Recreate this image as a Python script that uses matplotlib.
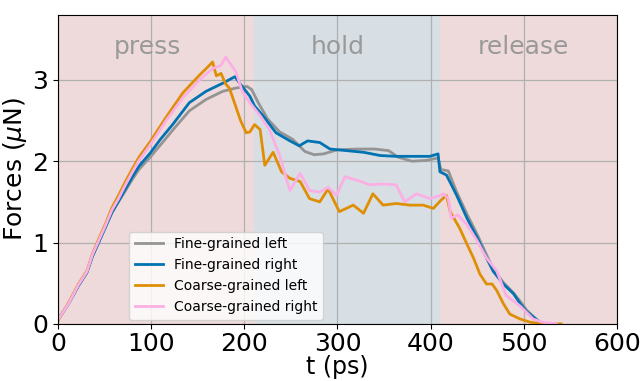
import matplotlib
matplotlib.use("Agg")
import matplotlib.pyplot as plt

# force on each side of the contact, fine-grained vs coarse-grained model
t_fine_left = [0, 11, 22, 31, 37, 44, 51, 58, 65, 72, 80, 87, 99, 110, 123, 141,
               159, 177, 191, 203, 208, 215, 225, 238, 252, 265, 275, 285, 300,
               320, 340, 355, 365, 380, 395, 408, 411, 419, 428, 439, 450, 460,
               467, 478, 489, 496, 503, 514, 520]
f_fine_left = [0.05, 0.24, 0.47, 0.63, 0.83, 1.01, 1.19, 1.37, 1.50, 1.63, 1.78,
               1.90, 2.05, 2.20, 2.38, 2.62, 2.76, 2.86, 2.90, 2.92, 2.88, 2.72,
               2.52, 2.36, 2.27, 2.12, 2.08, 2.09, 2.14, 2.15, 2.15, 2.13, 2.05,
               2.00, 2.01, 2.04, 1.90, 1.88, 1.62, 1.35, 1.10, 0.85, 0.68, 0.51,
               0.38, 0.28, 0.17, 0.05, 0.0]

t_fine_right = [0, 11, 22, 31, 37, 44, 51, 58, 65, 72, 80, 87, 99, 110, 123, 141,
                159, 177, 190, 195, 206, 211, 220, 234, 249, 259, 268, 281, 292,
                310, 328, 346, 363, 381, 399, 408, 410, 417, 428, 439, 450, 460,
                467, 478, 489, 496, 503, 514, 520, 530]
f_fine_right = [0.05, 0.24, 0.47, 0.63, 0.83, 1.01, 1.19, 1.37, 1.51, 1.65, 1.81,
                1.94, 2.10, 2.27, 2.45, 2.72, 2.86, 2.96, 3.04, 2.96, 2.80, 2.68,
                2.56, 2.35, 2.25, 2.19, 2.25, 2.23, 2.15, 2.13, 2.11, 2.07, 2.06,
                2.06, 2.06, 2.09, 1.87, 1.83, 1.58, 1.30, 1.06, 0.81, 0.65, 0.49,
                0.37, 0.25, 0.15, 0.05, 0.0, 0.0]

t_coarse_left = [0, 11, 22, 31, 37, 44, 51, 58, 65, 72, 80, 87, 99, 116, 134, 152,
                 160, 166, 170, 175, 180, 184, 190, 196, 202, 206, 211, 217, 222,
                 231, 240, 249, 260, 270, 281, 290, 302, 317, 328, 338, 349, 363,
                 378, 392, 403, 411, 417, 421, 431, 439, 446, 453, 460, 466, 471,
                 478, 485, 496, 507, 520, 540]
f_coarse_left = [0.04, 0.25, 0.49, 0.65, 0.86, 1.05, 1.23, 1.43, 1.58, 1.74, 1.91,
                 2.05, 2.24, 2.54, 2.84, 3.06, 3.15, 3.22, 3.05, 3.08, 2.95, 2.90,
                 2.70, 2.50, 2.35, 2.36, 2.45, 2.39, 1.95, 2.11, 1.87, 1.79, 1.75,
                 1.54, 1.50, 1.66, 1.38, 1.46, 1.36, 1.60, 1.46, 1.48, 1.46, 1.46,
                 1.42, 1.52, 1.58, 1.38, 1.18, 0.98, 0.81, 0.61, 0.49, 0.49, 0.41,
                 0.25, 0.12, 0.06, 0.02, 0.0, 0.0]

t_coarse_right = [0, 11, 22, 31, 37, 44, 51, 58, 65, 72, 80, 87, 99, 116, 134, 152,
                  166, 175, 180, 191, 198, 206, 217, 227, 238, 245, 249, 260, 270,
                  281, 290, 299, 308, 320, 335, 349, 363, 372, 385, 399, 411, 414,
                  419, 422, 429, 439, 450, 460, 471, 481, 496, 510, 520, 535]
f_coarse_right = [0.05, 0.24, 0.48, 0.64, 0.85, 1.03, 1.21, 1.40, 1.54, 1.70, 1.87,
                  2.01, 2.20, 2.50, 2.78, 3.00, 3.14, 3.18, 3.28, 3.10, 2.85, 2.72,
                  2.56, 2.39, 2.07, 1.79, 1.64, 1.85, 1.64, 1.62, 1.68, 1.58, 1.81,
                  1.77, 1.71, 1.72, 1.71, 1.50, 1.60, 1.54, 1.58, 1.60, 1.54, 1.30,
                  1.34, 1.22, 1.02, 0.81, 0.65, 0.35, 0.22, 0.06, 0.02, 0.0]

phases = ["press", "hold", "release"]
phase_edges = [0, 210, 410, 600]
phase_label_x = [96, 300, 500]
phase_colors = ["#efdadb", "#d8dfe4", "#efdadb"]

fig, ax = plt.subplots(figsize=(6.44, 3.81), dpi=100)
fig.subplots_adjust(left=0.090, right=0.958, top=0.961, bottom=0.150)

for i, name in enumerate(phases):
    ax.axvspan(phase_edges[i], phase_edges[i + 1], color=phase_colors[i], lw=0)
    ax.text(phase_label_x[i], 3.4, name, fontsize=18, color="#999999",
            ha="center", va="center")

ax.plot(t_fine_left, f_fine_left, color="#949494", lw=2, label="Fine-grained left")
ax.plot(t_fine_right, f_fine_right, color="#0173b2", lw=2, label="Fine-grained right")
ax.plot(t_coarse_left, f_coarse_left, color="#de8f05", lw=2, label="Coarse-grained left")
ax.plot(t_coarse_right, f_coarse_right, color="#fbafe4", lw=2, label="Coarse-grained right")

ax.set_xlim(0, 600)
ax.set_ylim(0, 3.8)
ax.set_xticks([0, 100, 200, 300, 400, 500, 600])
ax.set_yticks([0, 1, 2, 3])
ax.grid(True, color="#b0b0b0", lw=0.9)
ax.tick_params(labelsize=18)
ax.tick_params(axis="x", pad=2.5)
ax.set_xlabel("t (ps)", fontsize=17, labelpad=-1)
ax.set_ylabel(r"Forces ($\mu$N)", fontsize=18, labelpad=2)

ax.legend(loc="lower left", bbox_to_anchor=(0.12, 0.0), fontsize=10,
          borderaxespad=0.3)

fig.savefig("out.png", dpi=100)
